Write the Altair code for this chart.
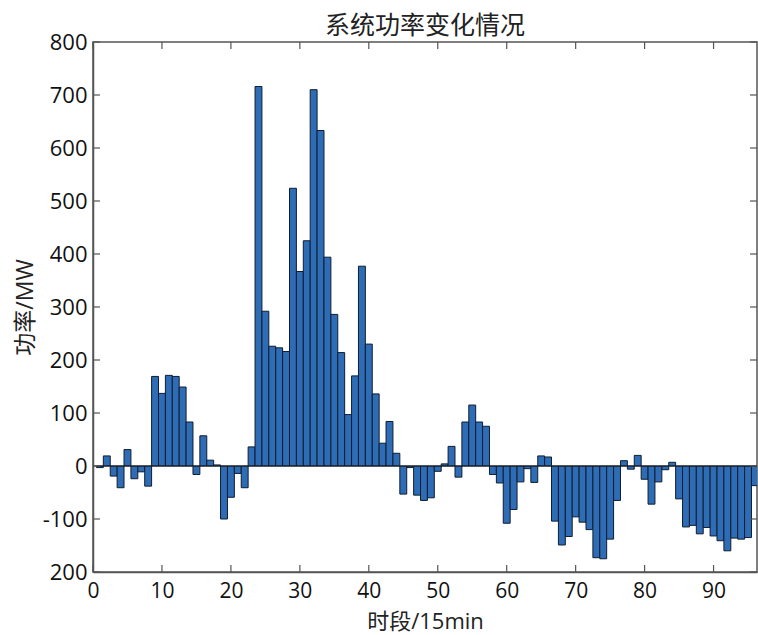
import altair as alt
import pandas as pd

# time slots 1..96 (15 min each)
slots = list(range(1, 97))
power = [
    -3, 19, -19, -41, 31, -24, -11, -38, 169, 137,
    171, 169, 149, 83, -16, 57, 11, 2, -100, -59,
    -14, -41, 36, 716, 292, 226, 223, 216, 524, 367,
    425, 710, 633, 394, 286, 214, 97, 170, 377, 230,
    136, 43, 84, 24, -53, -3, -55, -65, -60, -10,
    4, 37, -21, 83, 115, 83, 75, -16, -32, -108,
    -82, -30, -5, -31, 19, 17, -104, -149, -133, -96,
    -106, -120, -173, -175, -138, -65, 10, -6, 20, -25,
    -72, -30, -7, 7, -62, -115, -112, -128, -116, -132,
    -141, -160, -136, -138, -135, -37,
]
x_ticks = [0, 10, 20, 30, 40, 50, 60, 70, 80, 90]
y_ticks = [-200, -100, 0, 100, 200, 300, 400, 500, 600, 700, 800]

df = pd.DataFrame({"t": slots, "p": power})
xt = pd.DataFrame({"v": x_ticks})
yt = pd.DataFrame({"v": y_ticks})

W, H = 664, 530
AX = "#555555"
LATIN = "Open Sans, Noto Sans CJK SC"

xscale = alt.Scale(domain=[0, 96.3], nice=False, zero=False)
yscale = alt.Scale(domain=[-200, 800], nice=False)

bars = alt.Chart(df).transform_calculate(
    x0="datum.t - 0.5", x1="datum.t + 0.5"
).mark_bar(fill="#2e6db5", stroke="#0f1d30", strokeWidth=1, clip=True).encode(
    x=alt.X("x0:Q", scale=xscale,
            axis=alt.Axis(values=x_ticks, format="d", tickSize=0, labelPadding=8,
                          labelFontSize=21,
                          labelFlush=False, labelOverlap=False,
                          grid=False, title="时段/15min", titleX=W / 2, titleY=49,
                          titleFontSize=22,
                          titleBaseline="middle", titleAlign="center")),
    x2="x1:Q",
    y=alt.Y("p:Q", scale=yscale,
            axis=alt.Axis(values=y_ticks, tickSize=0, labelPadding=6, grid=False,
                          labelFlush=False, labelOverlap=False,
                          labelExpr="datum.value == -200 ? '200' : '' + datum.value",
                          title="功率/MW", titleX=-68, titleY=H / 2, titleAngle=-90,
                          titleBaseline="middle", titleAlign="center")),
    y2=alt.datum(0),
)

baseline = alt.Chart(pd.DataFrame({"z": [0]})).mark_rule(
    color="#1a1a1a", strokeWidth=1
).encode(y=alt.Y("z:Q", scale=yscale))

tick_len = 7
bot = alt.Chart(xt).mark_rule(color=AX, strokeWidth=1.2).encode(
    x=alt.X("v:Q", scale=xscale), y=alt.value(H), y2=alt.value(H - tick_len))
top = alt.Chart(xt).mark_rule(color=AX, strokeWidth=1.2).encode(
    x=alt.X("v:Q", scale=xscale), y=alt.value(0), y2=alt.value(tick_len))
left = alt.Chart(yt).mark_rule(color=AX, strokeWidth=1.2).encode(
    y=alt.Y("v:Q", scale=yscale), x=alt.value(0), x2=alt.value(tick_len))
right = alt.Chart(yt).mark_rule(color=AX, strokeWidth=1.2).encode(
    y=alt.Y("v:Q", scale=yscale), x=alt.value(W), x2=alt.value(W - tick_len))

chart = alt.layer(bars, baseline, bot, top, left, right).properties(
    width=W, height=H,
    title=alt.TitleParams("系统功率变化情况", font=LATIN, fontSize=25,
                          fontWeight="normal", color="#222222", anchor="middle",
                          baseline="top", offset=-8),
    autosize=alt.AutoSizeParams(type="none"),
    padding={"left": 93, "top": 42, "right": 1, "bottom": 63},
).configure_view(
    stroke=AX, strokeWidth=1.5
).configure_axis(
    domainColor=AX, domainWidth=1.5,
    labelFont=LATIN, labelFontSize=22, labelColor="#111111",
    titleFont=LATIN, titleFontSize=23, titleFontWeight="normal", titleColor="#222222",
)

chart.save("out.html", embed_options={"renderer": "svg", "actions": False})
